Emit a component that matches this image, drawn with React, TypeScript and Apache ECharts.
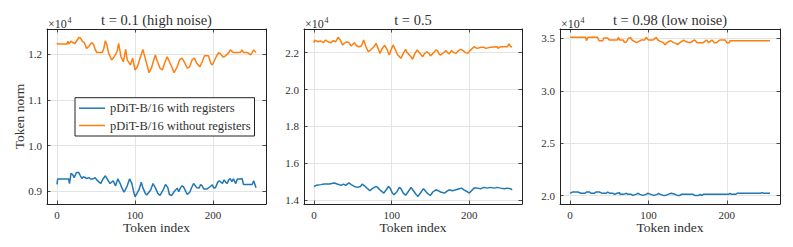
import React, { useEffect, useRef } from "react";
import * as echarts from "echarts";

// Token norm per token index, in units of 1e4, listed at the turning points of each trace.
const highNoiseWithRegisters: [number, number][] = [
  [0, 0.915], [1, 0.927], [15, 0.927], [16, 0.917], [17, 0.927], [18, 0.939], [20, 0.937], [22, 0.93],
  [25, 0.941], [28, 0.941], [30, 0.934], [32, 0.928], [34, 0.932], [38, 0.928], [41, 0.93], [43, 0.927],
  [46, 0.927], [49, 0.93], [51, 0.925], [56, 0.917], [59, 0.927], [62, 0.934], [64, 0.928], [68, 0.917],
  [72, 0.923], [75, 0.912], [78, 0.927], [81, 0.917], [83, 0.908], [86, 0.898], [90, 0.912], [93, 0.927],
  [96, 0.917], [98, 0.901], [100, 0.888], [105, 0.903], [108, 0.92], [110, 0.908], [113, 0.896], [115, 0.892],
  [120, 0.903], [123, 0.917], [126, 0.908], [129, 0.896], [132, 0.891], [136, 0.903], [139, 0.915], [142, 0.908],
  [144, 0.893], [147, 0.891], [150, 0.899], [154, 0.907], [156, 0.899], [158, 0.907], [160, 0.912], [162, 0.91],
  [164, 0.903], [167, 0.893], [170, 0.898], [173, 0.91], [175, 0.917], [179, 0.908], [182, 0.907], [184, 0.915],
  [186, 0.912], [188, 0.905], [192, 0.905], [196, 0.91], [199, 0.914], [201, 0.907], [203, 0.908], [206, 0.92],
  [208, 0.923], [212, 0.917], [214, 0.925], [216, 0.92], [218, 0.917], [220, 0.925], [222, 0.928], [224, 0.921],
  [226, 0.927], [229, 0.917], [231, 0.927], [235, 0.927], [237, 0.928], [239, 0.915], [250, 0.915], [252, 0.923],
  [255, 0.908],
];

const highNoiseWithoutRegisters: [number, number][] = [
  [0, 1.224], [1, 1.222], [13, 1.222], [14, 1.228], [15, 1.222], [18, 1.228], [20, 1.225], [23, 1.223],
  [28, 1.236], [30, 1.235], [33, 1.227], [35, 1.225], [38, 1.212], [41, 1.217], [43, 1.222], [45, 1.225],
  [47, 1.22], [49, 1.21], [51, 1.203], [58, 1.203], [60, 1.212], [62, 1.229], [64, 1.22], [66, 1.203],
  [70, 1.187], [73, 1.193], [77, 1.205], [79, 1.223], [82, 1.194], [85, 1.183], [88, 1.21], [90, 1.187],
  [94, 1.176], [97, 1.191], [100, 1.165], [103, 1.172], [107, 1.194], [110, 1.21], [113, 1.191], [118, 1.159],
  [121, 1.169], [124, 1.187], [126, 1.198], [128, 1.187], [132, 1.169], [135, 1.165], [137, 1.176], [141, 1.194],
  [143, 1.187], [147, 1.172], [150, 1.159], [154, 1.172], [157, 1.187], [160, 1.191], [163, 1.183], [167, 1.169],
  [170, 1.172], [173, 1.187], [176, 1.191], [179, 1.18], [183, 1.172], [186, 1.183], [189, 1.196], [194, 1.196],
  [197, 1.18], [199, 1.176], [201, 1.183], [204, 1.194], [207, 1.203], [209, 1.201], [213, 1.193], [216, 1.196],
  [220, 1.203], [222, 1.209], [226, 1.203], [235, 1.203], [237, 1.209], [239, 1.203], [244, 1.203], [248, 1.198],
  [250, 1.203], [252, 1.209], [255, 1.203],
];

const midNoiseWithRegisters: [number, number][] = [
  [0, 1.475], [3, 1.481], [9, 1.485], [13, 1.488], [20, 1.488], [26, 1.494], [30, 1.488], [35, 1.481],
  [38, 1.488], [41, 1.481], [45, 1.494], [48, 1.485], [52, 1.475], [56, 1.47], [60, 1.475], [62, 1.488],
  [66, 1.475], [69, 1.463], [72, 1.452], [75, 1.463], [80, 1.475], [82, 1.47], [86, 1.452], [90, 1.439],
  [93, 1.457], [96, 1.475], [98, 1.466], [101, 1.439], [103, 1.43], [107, 1.448], [110, 1.47], [112, 1.463],
  [115, 1.439], [118, 1.427], [121, 1.445], [125, 1.47], [128, 1.452], [131, 1.434], [134, 1.421], [138, 1.445],
  [141, 1.463], [144, 1.448], [147, 1.434], [150, 1.427], [153, 1.445], [157, 1.457], [160, 1.452], [163, 1.445],
  [168, 1.439], [171, 1.448], [174, 1.457], [178, 1.452], [183, 1.457], [187, 1.463], [190, 1.466], [193, 1.457],
  [198, 1.445], [200, 1.439], [204, 1.457], [206, 1.466], [210, 1.466], [215, 1.463], [219, 1.47], [223, 1.466],
  [227, 1.47], [232, 1.466], [236, 1.47], [240, 1.466], [245, 1.463], [249, 1.466], [253, 1.463], [255, 1.457],
];

const midNoiseWithoutRegisters: [number, number][] = [
  [0, 2.254], [1, 2.268], [5, 2.259], [9, 2.263], [12, 2.254], [15, 2.268], [18, 2.259], [22, 2.254],
  [25, 2.265], [28, 2.259], [31, 2.283], [34, 2.268], [37, 2.241], [39, 2.25], [42, 2.259], [45, 2.254],
  [48, 2.236], [52, 2.254], [55, 2.236], [58, 2.232], [61, 2.236], [64, 2.268], [67, 2.232], [70, 2.205],
  [73, 2.214], [78, 2.236], [80, 2.25], [82, 2.229], [85, 2.196], [88, 2.223], [91, 2.241], [94, 2.218],
  [97, 2.187], [100, 2.223], [102, 2.241], [105, 2.214], [108, 2.187], [112, 2.169], [115, 2.196], [118, 2.218],
  [120, 2.2], [124, 2.182], [127, 2.164], [130, 2.196], [133, 2.214], [137, 2.193], [140, 2.178], [142, 2.193],
  [145, 2.205], [148, 2.196], [150, 2.182], [154, 2.2], [157, 2.214], [159, 2.211], [161, 2.193], [163, 2.187],
  [167, 2.2], [170, 2.211], [172, 2.2], [174, 2.193], [177, 2.211], [180, 2.2], [183, 2.196], [186, 2.211],
  [189, 2.218], [192, 2.211], [195, 2.2], [198, 2.196], [201, 2.211], [204, 2.223], [206, 2.232], [210, 2.223],
  [215, 2.229], [219, 2.229], [221, 2.223], [227, 2.229], [236, 2.232], [237, 2.223], [240, 2.232], [249, 2.232],
  [251, 2.247], [253, 2.232], [255, 2.232],
];

const lowNoiseWithRegisters: [number, number][] = [
  [0, 2.023], [3, 2.035], [10, 2.035], [14, 2.023], [19, 2.023], [21, 2.035], [25, 2.035], [27, 2.023],
  [31, 2.023], [33, 2.035], [38, 2.035], [41, 2.023], [46, 2.023], [48, 2.035], [51, 2.023], [55, 2.023],
  [57, 2.013], [60, 2.023], [63, 2.029], [64, 2.013], [68, 2.013], [72, 2.023], [74, 2.013], [78, 2.013],
  [80, 2.003], [84, 2.013], [87, 2.023], [89, 2.013], [93, 2.003], [97, 2.013], [99, 2.023], [103, 2.013],
  [107, 2.003], [111, 2.013], [113, 2.023], [115, 2.013], [119, 2.003], [122, 2.003], [125, 2.013], [129, 2.023],
  [134, 2.013], [137, 2.003], [140, 2.003], [142, 2.013], [157, 2.013], [159, 2.003], [164, 2.003], [166, 2.013],
  [168, 2.003], [170, 2.013], [202, 2.013], [204, 2.023], [206, 2.013], [211, 2.013], [213, 2.023], [243, 2.023],
  [245, 2.029], [247, 2.023], [255, 2.023],
];

const lowNoiseWithoutRegisters: [number, number][] = [
  [0, 3.51], [20, 3.51], [21, 3.478], [23, 3.51], [35, 3.51], [37, 3.478], [42, 3.478], [43, 3.503],
  [48, 3.503], [50, 3.484], [60, 3.484], [62, 3.51], [63, 3.484], [68, 3.484], [69, 3.465], [71, 3.459],
  [73, 3.478], [74, 3.497], [77, 3.51], [79, 3.484], [82, 3.471], [85, 3.459], [88, 3.471], [91, 3.484],
  [95, 3.484], [97, 3.51], [100, 3.484], [106, 3.484], [108, 3.497], [110, 3.51], [112, 3.484], [115, 3.471],
  [119, 3.459], [121, 3.437], [123, 3.452], [125, 3.465], [128, 3.478], [132, 3.459], [135, 3.452], [137, 3.44],
  [139, 3.452], [142, 3.468], [145, 3.484], [149, 3.465], [154, 3.459], [157, 3.478], [159, 3.484], [162, 3.459],
  [170, 3.459], [174, 3.484], [177, 3.459], [181, 3.484], [184, 3.459], [187, 3.459], [191, 3.484], [198, 3.484],
  [200, 3.459], [203, 3.459], [204, 3.478], [255, 3.478],
];

const seriesNames = ["pDiT-B/16 with registers", "pDiT-B/16 without registers"];
const panelTitles = ["t = 0.1 (high noise)", "t = 0.5", "t = 0.98 (low noise)"];
const xTicks = [0, 100, 200];
const yTicksHigh = [0.9, 1.0, 1.1, 1.2];
const yTicksMid = [1.4, 1.6, 1.8, 2.0, 2.2];
const yTicksLow = [2.0, 2.5, 3.0, 3.5];

const FONT = "Liberation Serif";
const INK = "#222222";
const TEXT = "#303030";
const GRID_LINE = "#e4e4e4";
const COLORS = ["#1f77b4", "#ff7f0e"];

const panels = [
  { left: 47, width: 219, yMin: 0.8723, yMax: 1.2546, yTicks: yTicksHigh, data: [highNoiseWithRegisters, highNoiseWithoutRegisters] },
  { left: 304, width: 218, yMin: 1.38, yMax: 2.328, yTicks: yTicksMid, data: [midNoiseWithRegisters, midNoiseWithoutRegisters] },
  { left: 560, width: 220, yMin: 1.921, yMax: 3.589, yTicks: yTicksLow, data: [lowNoiseWithRegisters, lowNoiseWithoutRegisters] },
];
const TOP = 29;
const HEIGHT = 175;

export default function App() {
  const ref = useRef<HTMLDivElement>(null);

  useEffect(() => {
    const chart = echarts.init(ref.current!, null, { renderer: "svg" });

    const grid: any[] = [];
    const xAxis: any[] = [];
    const yAxis: any[] = [];
    const series: any[] = [];
    const graphic: any[] = [];

    panels.forEach((p, i) => {
      grid.push({ left: p.left, top: TOP, width: p.width, height: HEIGHT });

      const frameLine = { show: true, onZero: false, lineStyle: { color: INK, width: 1 } };
      const xTick = { show: true, inside: true, length: 3.5, customValues: xTicks, lineStyle: { color: INK, width: 0.8 } };
      const yTick = { show: true, inside: true, length: 3.5, customValues: p.yTicks, lineStyle: { color: INK, width: 0.8 } };
      const tickText = { color: TEXT, fontFamily: FONT, fontSize: 11, fontWeight: "normal" };
      const nameText = { color: TEXT, fontFamily: FONT, fontSize: 13.5, fontWeight: "normal" };

      xAxis.push({
        type: "value", gridIndex: i, position: "bottom", min: -12.75, max: 267.75,
        axisLine: frameLine, axisTick: xTick,
        axisLabel: { show: true, customValues: xTicks, margin: 5, ...tickText, formatter: (v: number) => String(v) },
        splitLine: { show: true, lineStyle: { color: GRID_LINE, width: 1 } },
        name: "Token index", nameLocation: "middle", nameGap: 16, nameMoveOverlap: false,
        nameTextStyle: nameText,
      });
      xAxis.push({
        type: "value", gridIndex: i, position: "top", min: -12.75, max: 267.75,
        axisLine: frameLine, axisTick: xTick, axisLabel: { show: false }, splitLine: { show: false },
      });

      yAxis.push({
        type: "value", gridIndex: i, position: "left", min: p.yMin, max: p.yMax,
        axisLine: frameLine, axisTick: yTick,
        axisLabel: { show: true, customValues: p.yTicks, margin: 5, ...tickText, formatter: (v: number) => v.toFixed(1) },
        splitLine: { show: true, lineStyle: { color: GRID_LINE, width: 1 } },
        name: i === 0 ? "Token norm" : "", nameLocation: "middle", nameGap: 21, nameMoveOverlap: false,
        nameTextStyle: nameText,
      });
      yAxis.push({
        type: "value", gridIndex: i, position: "right", min: p.yMin, max: p.yMax,
        axisLine: frameLine, axisTick: yTick, axisLabel: { show: false }, splitLine: { show: false },
      });

      p.data.forEach((d, k) => {
        series.push({
          type: "line", name: seriesNames[k], xAxisIndex: 2 * i, yAxisIndex: 2 * i,
          data: d, symbol: "none", showSymbol: false, silent: true,
          lineStyle: { color: COLORS[k], width: 1.5 }, itemStyle: { color: COLORS[k] },
        });
      });

      const cx = p.left + p.width / 2;
      graphic.push({
        type: "text", x: cx, y: 20, silent: true,
        style: { text: panelTitles[i], fill: TEXT, fontFamily: FONT, fontSize: 14.5, align: "center", verticalAlign: "middle" },
      });
      graphic.push({
        type: "text", x: p.left + 1, y: 24, silent: true,
        style: { text: "×10", fill: TEXT, fontFamily: FONT, fontSize: 12, align: "left", verticalAlign: "middle" },
      });
      graphic.push({
        type: "text", x: p.left + 20.5, y: 20, silent: true,
        style: { text: "4", fill: TEXT, fontFamily: FONT, fontSize: 8, align: "left", verticalAlign: "middle" },
      });
    });

    chart.setOption({
      animation: false,
      backgroundColor: "#ffffff",
      grid, xAxis, yAxis, series, graphic,
      legend: {
        show: true, left: 75, top: 97.7, orient: "vertical", data: seriesNames,
        selectedMode: false, icon: "rect",
        itemWidth: 26, itemHeight: 1.5, itemGap: 3.3,
        padding: [3.5, 4, 3.5, 4],
        borderColor: INK, borderWidth: 1, borderRadius: 0, backgroundColor: "#ffffff",
        textStyle: { color: TEXT, fontFamily: FONT, fontSize: 12.5, lineHeight: 14 },
      },
    });

    return () => chart.dispose();
  }, []);

  return <div ref={ref} style={{ position: "fixed", left: 0, top: 0, width: 793, height: 247 }} />;
}
